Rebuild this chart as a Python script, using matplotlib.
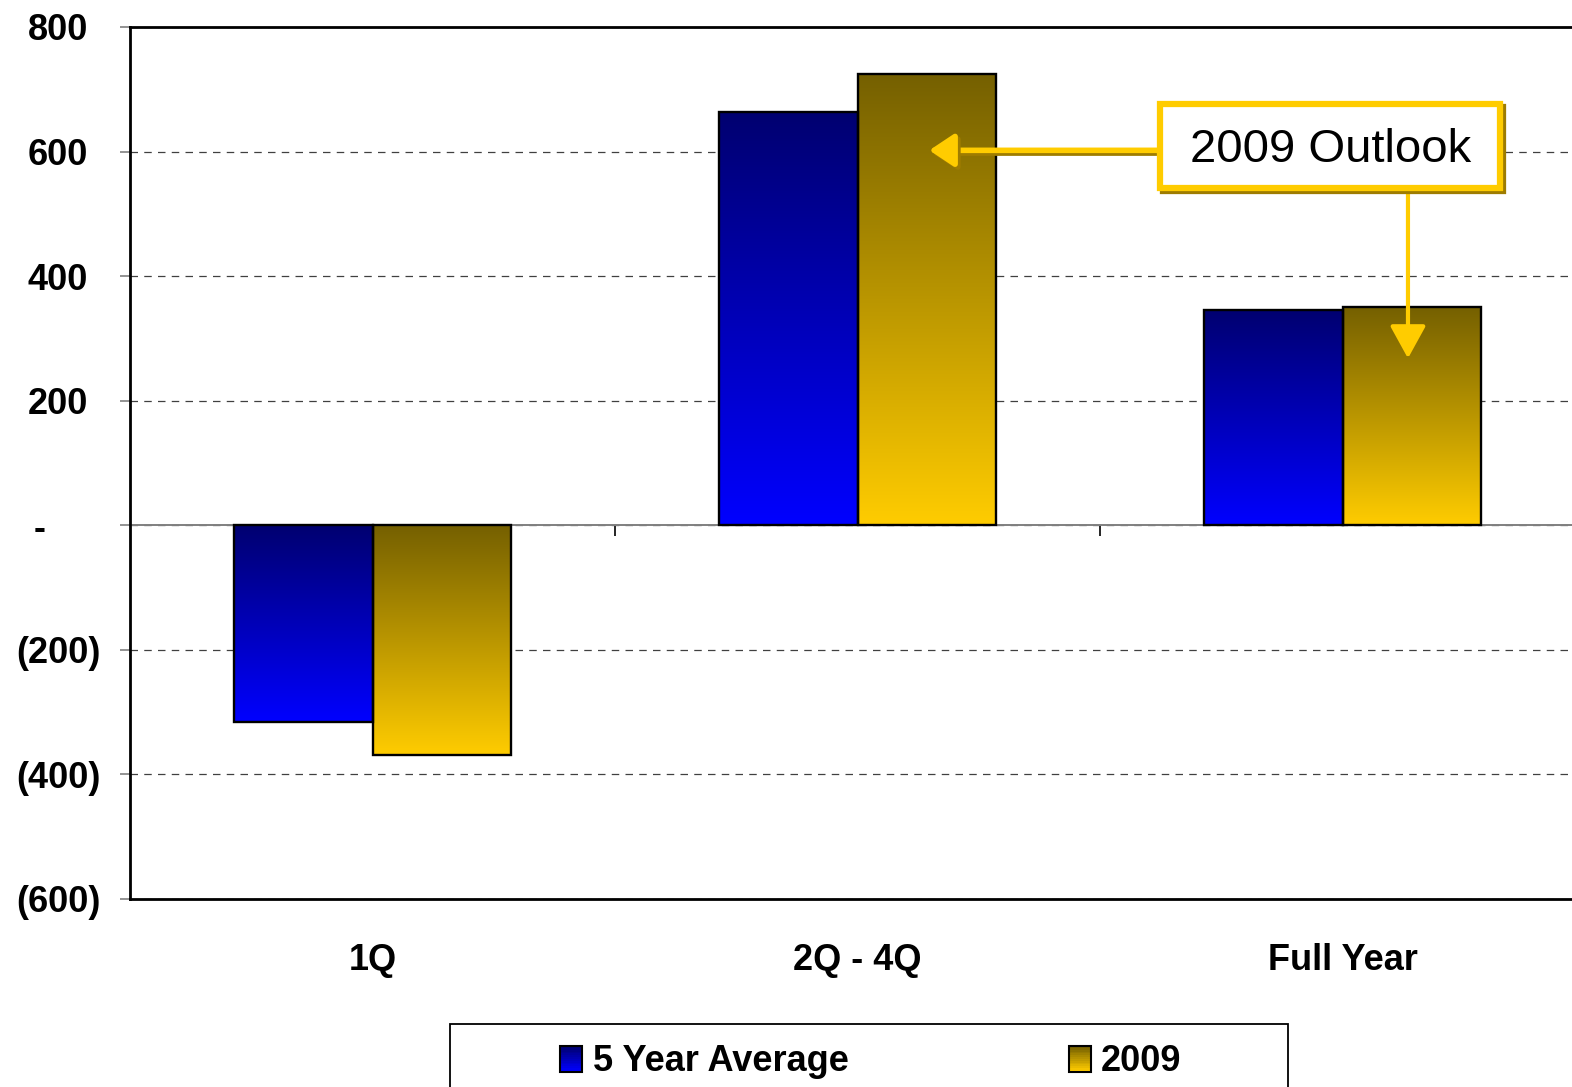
import numpy as np
import matplotlib.pyplot as plt
import matplotlib.patheffects as pe
from matplotlib.colors import LinearSegmentedColormap
from matplotlib.patches import Rectangle
from matplotlib.legend_handler import HandlerBase
from matplotlib.transforms import ScaledTranslation

plt.rcParams['font.family'] = ['Liberation Sans', 'DejaVu Sans']

# data
categories = ['1Q', '2Q - 4Q', 'Full Year']
five_year_avg = [-316, 663, 345]
outlook_2009 = [-369, 724, 350]
series_names = ['5 Year Average', '2009']
y_ticks = [-600, -400, -200, 0, 200, 400, 600, 800]
y_labels = ['(600)', '(400)', '(200)', '-', '200', '400', '600', '800']

BLUE_TOP, BLUE_BOT = '#000070', '#0000FF'
GOLD_TOP, GOLD_BOT = '#756000', '#FFCC00'
YELLOW = '#FFCC00'
SHADOW = '#9E7C00'

fig = plt.figure(figsize=(15.72, 10.87), dpi=100)
ax = fig.add_axes([130 / 1572, 1 - 899 / 1087, 1455 / 1572, 872 / 1087])

x = np.arange(len(categories)) + 0.5
w = 0.285
bars_a = ax.bar(x - w / 2, five_year_avg, w, fc='none', ec='black', lw=1.7, zorder=4)
bars_b = ax.bar(x + w / 2, outlook_2009, w, fc='none', ec='black', lw=1.7, zorder=4)


def fill_gradient(bars, top, bottom):
    # dark at the top of each bar, bright at the bottom
    cmap = LinearSegmentedColormap.from_list('g', [top, bottom])
    grad = np.linspace(0, 1, 256).reshape(-1, 1)
    for p in bars.patches:
        y0, y1 = sorted([p.get_y(), p.get_y() + p.get_height()])
        ax.imshow(grad, cmap=cmap, aspect='auto', origin='upper',
                  extent=[p.get_x(), p.get_x() + p.get_width(), y0, y1], zorder=3)


fill_gradient(bars_a, BLUE_TOP, BLUE_BOT)
fill_gradient(bars_b, GOLD_TOP, GOLD_BOT)

ax.set_xlim(0, 3)
ax.set_ylim(-600, 800)

# grid and zero line
ax.set_axisbelow(True)
ax.yaxis.grid(True, ls=(0, (6, 5)), color='#404040', lw=0.9)
ax.axhline(0, color='#808080', lw=1.4, zorder=2)

for s in ['left', 'top', 'bottom']:
    ax.spines[s].set_linewidth(2)
    ax.spines[s].set_color('black')
ax.spines['right'].set_visible(False)

# category labels below the plot
ax.set_xticks(x, categories)
ax.tick_params(axis='x', length=0, pad=32, labelsize=26)
for lab in ax.get_xticklabels():
    lab.set_fontweight('bold')

# category boundary ticks on the zero line
sec = ax.secondary_xaxis(0, transform=ax.transData)
sec.set_xticks([1, 2])
sec.tick_params(length=8, width=1.2, color='black', labelbottom=False, labeltop=False)
for s in sec.spines.values():
    s.set_visible(False)

# y axis, accounting style labels
ax.set_yticks(y_ticks, y_labels)
ax.tick_params(axis='y', length=7, width=1.2, color='#808080', pad=14, labelsize=26)
shifts = [0, 0, 0, 55, 13, 13, 13, 13]
for lab, s in zip(ax.get_yticklabels(), shifts):
    lab.set_fontweight('bold')
    lab.set_transform(lab.get_transform() + ScaledTranslation(-s / 100, 0, fig.dpi_scale_trans))

# "2009 Outlook" callout
shadow = [pe.SimplePatchShadow(offset=(2, -2), shadow_rgbFace=SHADOW, alpha=1.0,
                               foreground=SHADOW, linewidth=4), pe.Normal()]
ax.annotate('', xy=(1.648, 602), xytext=(2.124, 602),
            arrowprops=dict(arrowstyle='-|>,head_length=0.75,head_width=0.5', mutation_scale=20,
                            color=YELLOW, lw=4, shrinkA=0, shrinkB=0, path_effects=shadow),
            zorder=5)
ax.annotate('', xy=(2.635, 268), xytext=(2.635, 541),
            arrowprops=dict(arrowstyle='-|>,head_length=1.0,head_width=0.55', mutation_scale=20,
                            color=YELLOW, lw=3, shrinkA=0, shrinkB=0), zorder=5)
box = Rectangle((2.124, 541), 0.701, 135, fc='white', ec=YELLOW, lw=4.5, zorder=6,
                path_effects=[pe.SimplePatchShadow(offset=(2.2, -2.2), shadow_rgbFace=SHADOW,
                                                   alpha=1.0, foreground=SHADOW, linewidth=4.5),
                              pe.Normal()])
ax.add_patch(box)
ax.text(2.476, 603, '2009 Outlook', fontsize=34, ha='center', va='center', zorder=7)


class GradientHandler(HandlerBase):
    def __init__(self, top, bottom):
        super().__init__()
        self.cmap = LinearSegmentedColormap.from_list('h', [bottom, top])

    def create_artists(self, legend, orig_handle, xdescent, ydescent, width, height,
                       fontsize, trans):
        n = 14
        arts = []
        for i in range(n):
            arts.append(Rectangle((-xdescent, -ydescent + i * height / n), width, height / n,
                                  fc=self.cmap(i / (n - 1)), ec='none', transform=trans))
        arts.append(Rectangle((-xdescent, -ydescent), width, height, fill=False,
                              ec='black', lw=1.5, transform=trans))
        return arts


h1 = Rectangle((0, 0), 1, 1)
h2 = Rectangle((0, 0), 1, 1)
fig.legend([h1, h2], series_names, loc='center', bbox_to_anchor=(0.554, 0.023), ncol=2,
           frameon=False, prop=dict(weight='bold', size=26), handlelength=0.62,
           handleheight=0.72, handletextpad=0.28, columnspacing=6.1,
           handler_map={h1: GradientHandler(BLUE_TOP, BLUE_BOT),
                        h2: GradientHandler(GOLD_TOP, GOLD_BOT)})
fig.add_artist(Rectangle((450 / 1572, -0.05), 838 / 1572, 0.05 + 1 - 1024 / 1087,
                         transform=fig.transFigure, fill=False, ec='black', lw=1.3))

fig.savefig('out.png', dpi=100)
